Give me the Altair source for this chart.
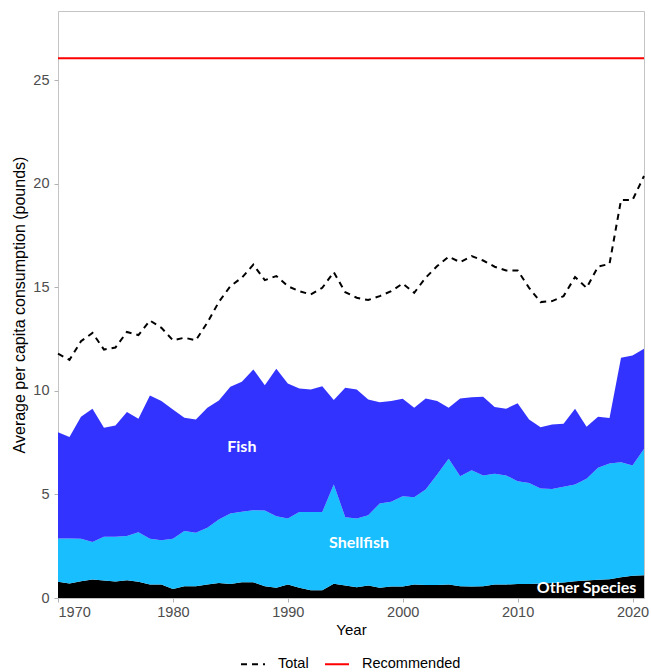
import altair as alt
import pandas as pd

years = list(range(1970, 2022))

other_species = [0.78, 0.70, 0.81, 0.89, 0.85, 0.80, 0.86, 0.78, 0.65, 0.65,
                 0.44, 0.57, 0.57, 0.65, 0.73, 0.68, 0.76, 0.76, 0.57, 0.49,
                 0.65, 0.49, 0.38, 0.38, 0.69, 0.60, 0.52, 0.60, 0.49, 0.55,
                 0.55, 0.65, 0.63, 0.63, 0.65, 0.57, 0.55, 0.57, 0.65, 0.65,
                 0.68, 0.68, 0.70, 0.72, 0.75, 0.81, 0.85, 0.88, 0.90, 1.00,
                 1.08, 1.10]

shellfish = [2.09, 2.17, 2.05, 1.82, 2.11, 2.16, 2.13, 2.40, 2.21, 2.14,
             2.42, 2.66, 2.58, 2.74, 3.06, 3.40, 3.40, 3.48, 3.66, 3.46,
             3.19, 3.66, 3.77, 3.77, 4.79, 3.30, 3.32, 3.40, 4.08, 4.10,
             4.37, 4.22, 4.61, 5.34, 6.07, 5.31, 5.62, 5.35, 5.35, 5.27,
             4.96, 4.88, 4.59, 4.55, 4.62, 4.67, 4.91, 5.41, 5.60, 5.56,
             5.32, 6.10]

fish = [5.13, 4.91, 5.89, 6.43, 5.26, 5.37, 5.99, 5.48, 6.92, 6.72,
        6.24, 5.47, 5.47, 5.80, 5.75, 6.12, 6.28, 6.80, 6.04, 7.12,
        6.52, 5.97, 5.92, 6.08, 4.08, 6.25, 6.23, 5.59, 4.89, 4.86,
        4.70, 4.32, 4.40, 3.54, 2.47, 3.76, 3.53, 3.80, 3.22, 3.22,
        3.76, 3.06, 2.96, 3.11, 3.04, 3.66, 2.51, 2.46, 2.19, 5.04,
        5.31, 4.84]

total = [11.8, 11.5, 12.4, 12.8, 12.0, 12.1, 12.85, 12.7, 13.4, 13.05,
         12.45, 12.57, 12.45, 13.3, 14.3, 15.06, 15.47, 16.1, 15.35, 15.55,
         15.06, 14.82, 14.66, 14.98, 15.74, 14.77, 14.5, 14.39, 14.58, 14.82,
         15.19, 14.74, 15.47, 16.03, 16.48, 16.22, 16.51, 16.3, 16.0, 15.82,
         15.82, 14.98, 14.29, 14.34, 14.58, 15.5, 14.98, 16.0, 16.14, 19.22,
         19.22, 20.38]

recommended_value = 26.07
recommended_years = [1970, 2021]

groups = ["Fish", "Shellfish", "Other Species"]
group_colors = ["#3333FF", "#19BEFF", "#000000"]

label_text = ["Fish", "Shellfish", "Other Species"]
label_year = [1986.0, 1996.2, 2016.0]
label_value = [7.3, 2.68, 0.46]

x_ticks = [1970, 1980, 1990, 2000, 2010, 2020]
y_ticks = [0, 5, 10, 15, 20, 25]

# ---- build tables ----
rows = []
for i, yr in enumerate(years):
    rows.append({"Year": yr, "Group": "Other Species", "ord": 0, "value": other_species[i]})
    rows.append({"Year": yr, "Group": "Shellfish", "ord": 1, "value": shellfish[i]})
    rows.append({"Year": yr, "Group": "Fish", "ord": 2, "value": fish[i]})
area_df = pd.DataFrame(rows)

line_rows = [{"Year": yr, "Series": "Total", "value": total[i]} for i, yr in enumerate(years)]
line_rows += [{"Year": yr, "Series": "Recommended", "value": recommended_value} for yr in recommended_years]
line_df = pd.DataFrame(line_rows)

label_df = pd.DataFrame({"text": label_text, "Year": label_year, "value": label_value})

x_scale = alt.Scale(domain=[1970, 2021], nice=False, zero=False)
y_scale = alt.Scale(domain=[0, 28.35], nice=False)

x_axis = alt.Axis(values=x_ticks, format="d", title="Year", grid=False, domain=False,
                  tickColor="#B3B3B3", tickSize=4, labelPadding=3,
                  labelFontSize=14.5, labelColor="#4D4D4D", labelFont="Liberation Sans",
                  titleFontSize=15, titleColor="#000000", titleFont="Liberation Sans",
                  titleFontWeight="normal", titlePadding=4)
y_axis = alt.Axis(values=y_ticks, title="Average per capita consumption (pounds)", grid=False,
                  domain=False, tickColor="#B3B3B3", tickSize=4, labelPadding=5,
                  labelFontSize=14.5, labelColor="#4D4D4D", labelFont="Liberation Sans",
                  titleFontSize=16, titleColor="#000000", titleFont="Liberation Sans",
                  titleFontWeight="normal", titlePadding=5)

areas = alt.Chart(area_df).mark_area(interpolate="linear").encode(
    x=alt.X("Year:Q", scale=x_scale, axis=x_axis),
    y=alt.Y("value:Q", stack="zero", scale=y_scale, axis=y_axis),
    color=alt.Color("Group:N", scale=alt.Scale(domain=groups, range=group_colors), legend=None),
    order=alt.Order("ord:Q", sort="ascending"),
)

legend_cfg = alt.Legend(title=None, orient="none", direction="horizontal",
                        legendX=182, legendY=640, symbolType="stroke",
                        symbolSize=576, symbolStrokeWidth=2, labelFontSize=14.5,
                        labelFont="Liberation Sans", labelColor="#000000",
                        labelOffset=12, columnPadding=12)

lines = alt.Chart(line_df).mark_line(strokeWidth=2).encode(
    x=alt.X("Year:Q", scale=x_scale),
    y=alt.Y("value:Q", scale=y_scale),
    color=alt.Color("Series:N",
                    scale=alt.Scale(domain=["Total", "Recommended"], range=["#000000", "#FF0000"]),
                    legend=legend_cfg),
    strokeDash=alt.StrokeDash("Series:N",
                              scale=alt.Scale(domain=["Total", "Recommended"], range=[[6, 5], [1, 0]]),
                              legend=legend_cfg),
)

labels = alt.Chart(label_df).mark_text(font="Lato", fontWeight="bold", fontSize=16,
                                       color="white", align="center", baseline="middle").encode(
    x=alt.X("Year:Q", scale=x_scale),
    y=alt.Y("value:Q", scale=y_scale),
    text="text:N",
)

chart = alt.layer(areas, lines, labels).resolve_scale(
    color="independent", strokeDash="independent"
).properties(
    width=586, height=587,
    autosize=alt.AutoSizeParams(type="none"),
    padding={"left": 58, "top": 11, "right": 7, "bottom": 74},
    background="white",
).configure_view(stroke="#C4C4C4", strokeWidth=1)

chart.save("out.html", embed_options={"renderer": "svg", "actions": False})
